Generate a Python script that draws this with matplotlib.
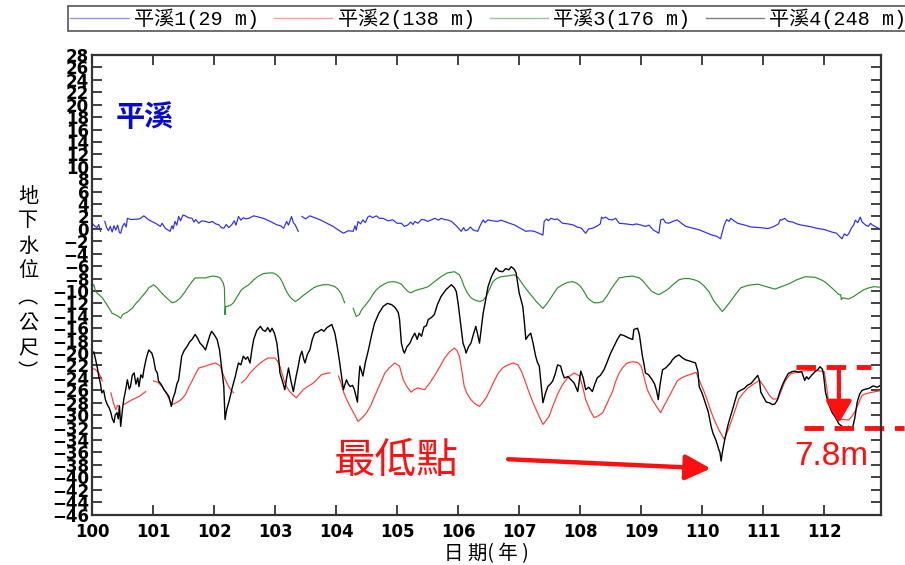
import numpy as np
import matplotlib
matplotlib.use("Agg")
import matplotlib.pyplot as plt
from matplotlib.font_manager import FontProperties

nan = np.nan

# Groundwater level records (year in ROC calendar, level in metres)
well1 = [  # 平溪1 (29 m)
    (100.00, 0.9), (100.04, 0.5), (100.08, 0.2), (100.11, 0.7), (100.14, -0.4), (100.17, nan),
    (100.21, 1.2), (100.24, 0.2), (100.27, -0.3), (100.30, 0.4), (100.33, -0.5), (100.36, 0.5),
    (100.39, -0.2), (100.42, 0.6), (100.45, -0.6), (100.47, -0.7), (100.50, 0.4), (100.53, 0.9),
    (100.56, 0.3), (100.58, 1.7), (100.64, 1.5), (100.71, 1.55), (100.78, 1.6), (100.85, 2.1),
    (100.93, 1.45), (101.04, 0.9), (101.12, 0.4), (101.15, 0.9), (101.20, 0.1), (101.28, -0.4),
    (101.31, 0.5), (101.33, 0.0), (101.36, 1.2), (101.39, 0.6), (101.42, 2.0), (101.45, 1.3),
    (101.49, 2.2), (101.53, 2.1), (101.58, 1.8), (101.64, 1.7), (101.67, 1.1), (101.70, 1.5),
    (101.75, 0.9), (101.80, 1.3), (101.86, 1.2), (101.92, 1.0), (101.97, 1.2), (102.03, 0.8),
    (102.08, 0.65), (102.12, 0.2), (102.16, 0.1), (102.20, 0.7), (102.24, 0.2), (102.29, 0.65),
    (102.33, 1.3), (102.36, 0.6), (102.40, 2.0), (102.44, 1.4), (102.48, 1.8), (102.52, 1.6),
    (102.57, 1.7), (102.65, 2.1), (102.73, 1.9), (102.81, 1.7), (102.92, 1.2), (103.03, 0.65),
    (103.09, 0.5), (103.14, 0.1), (103.19, 1.2), (103.22, 0.6), (103.27, 2.0), (103.30, 1.0),
    (103.33, 0.65), (103.38, -0.4), (103.41, nan), (103.44, 2.0), (103.50, 1.6), (103.57, 2.1),
    (103.65, 1.8), (103.74, 1.45), (103.85, 0.9), (103.95, 0.4), (104.04, -0.2), (104.12, -0.7),
    (104.20, -0.3), (104.28, -0.4), (104.31, 0.5), (104.33, -0.2), (104.36, 1.2), (104.40, 0.8),
    (104.44, 1.45), (104.48, 1.0), (104.52, 1.9), (104.55, 2.1), (104.60, 1.8), (104.66, 2.1),
    (104.71, 1.7), (104.77, 1.7), (104.85, 1.3), (104.93, 1.45), (105.00, 0.9), (105.07, 0.9),
    (105.12, 0.4), (105.18, 0.65), (105.22, 1.1), (105.26, 0.7), (105.29, 1.2), (105.34, 0.9),
    (105.40, 1.5), (105.45, 1.45), (105.50, 1.2), (105.56, 1.45), (105.62, 1.7), (105.68, 1.4),
    (105.72, 1.7), (105.78, 1.5), (105.84, 1.4), (105.89, 1.2), (105.97, 0.5), (106.05, -0.4),
    (106.09, 0.2), (106.12, -0.3), (106.16, -0.15), (106.20, 0.3), (106.25, -0.2), (106.32, -0.4),
    (106.36, 0.5), (106.41, 1.45), (106.44, 1.0), (106.49, 1.45), (106.56, 1.3), (106.65, 1.2),
    (106.70, 1.4), (106.76, 1.2), (106.84, 0.9), (106.92, 0.65), (107.02, 0.1), (107.11, -0.4),
    (107.18, -0.3), (107.25, -0.4), (107.32, -0.7), (107.39, -1.0), (107.41, 1.2), (107.45, 1.6),
    (107.48, 1.3), (107.52, 1.7), (107.58, 1.5), (107.63, 1.6), (107.71, 0.9), (107.80, 0.8),
    (107.88, 0.65), (107.95, 0.3), (108.02, 0.1), (108.09, -0.7), (108.14, 0.0), (108.20, 0.1),
    (108.27, 0.4), (108.33, 0.8), (108.35, 1.9), (108.37, 1.7), (108.42, 1.9), (108.47, 1.5),
    (108.53, 1.45), (108.58, 1.7), (108.64, 0.9), (108.75, 0.8), (108.86, 0.65), (108.92, 0.8),
    (109.00, 0.6), (109.07, 0.4), (109.13, 0.6), (109.20, -0.2), (109.29, -0.7), (109.32, 1.45),
    (109.36, 1.6), (109.40, 1.0), (109.45, 0.9), (109.52, 1.2), (109.59, 1.45), (109.66, 0.9),
    (109.73, 0.4), (109.85, 0.1), (109.95, -0.15), (110.06, -0.6), (110.16, -1.0), (110.24, -1.2),
    (110.30, -1.6), (110.33, -0.5), (110.36, 0.6), (110.40, 1.5), (110.44, 1.2), (110.47, 1.7),
    (110.52, 1.3), (110.58, 0.9), (110.70, 0.6), (110.80, 0.3), (110.95, 0.2), (111.08, 0.05),
    (111.18, 0.4), (111.25, 0.8), (111.28, 1.5), (111.30, 1.4), (111.35, 1.7), (111.41, 1.2),
    (111.48, 1.1), (111.55, 0.8), (111.63, 0.6), (111.75, 0.4), (111.90, 0.05), (112.00, -0.1),
    (112.12, -0.5), (112.20, -0.7), (112.25, -1.2), (112.29, -1.6), (112.33, -0.8), (112.37, -1.1),
    (112.40, -0.8), (112.45, 0.2), (112.48, 0.6), (112.51, 1.4), (112.55, 1.0), (112.59, 1.9),
    (112.62, 1.1), (112.68, 0.6), (112.72, 0.4), (112.76, 0.9), (112.79, 0.6), (112.85, 0.3),
    (112.90, 0.05),
]

well2 = [  # 平溪2 (138 m)
    (100.00, -22.4), (100.06, -22.7), (100.11, -23.2), (100.14, -23.8), (100.17, -24.5), (100.24, nan),
    (100.31, -26.4), (100.35, -28.0), (100.39, -29.1), (100.42, -28.4), (100.44, -28.6), (100.48, nan),
    (100.52, -28.3), (100.59, -27.9), (100.66, -27.5), (100.77, -27.0), (100.88, -26.2), (100.95, nan),
    (101.01, -24.5), (101.05, -24.6), (101.09, -24.8), (101.15, -25.4), (101.20, -26.2), (101.26, -27.3),
    (101.31, -28.3), (101.36, -28.1), (101.42, -27.8), (101.48, -27.3), (101.53, -26.7), (101.58, -25.6),
    (101.64, -24.5), (101.70, -23.3), (101.75, -22.4), (101.86, -22.1), (101.95, -21.8), (102.02, -21.6),
    (102.06, -21.8), (102.10, -22.1), (102.16, -23.7), (102.20, -24.6), (102.24, -25.4), (102.28, -26.0),
    (102.32, -26.4), (102.38, nan), (102.45, -24.8), (102.52, -24.2), (102.59, -23.2), (102.68, -22.3),
    (102.76, -21.6), (102.83, -21.1), (102.89, -20.8), (103.00, -20.8), (103.04, -21.3), (103.08, -22.1),
    (103.12, -23.5), (103.16, -24.8), (103.20, -25.6), (103.24, -26.2), (103.30, -26.8), (103.35, -27.2),
    (103.40, -26.6), (103.46, -25.9), (103.55, -25.3), (103.63, -24.8), (103.70, -24.1), (103.76, -23.5),
    (103.83, -23.3), (103.90, -23.2), (103.97, nan), (104.04, -23.7), (104.08, -24.8), (104.12, -26.2),
    (104.17, -27.4), (104.23, -28.6), (104.30, -29.9), (104.36, -31.0), (104.43, -30.4), (104.50, -29.6),
    (104.57, -28.4), (104.63, -27.0), (104.72, -25.0), (104.80, -23.2), (104.88, -22.3), (104.96, -21.6),
    (105.04, -22.1), (105.10, -24.3), (105.16, -25.4), (105.23, -26.3), (105.28, -25.9), (105.34, -25.6),
    (105.40, -25.8), (105.45, -25.9), (105.53, -24.9), (105.61, -23.7), (105.70, -22.2), (105.78, -20.8),
    (105.86, -19.8), (105.94, -19.2), (105.98, -19.6), (106.02, -20.5), (106.06, -22.8), (106.10, -25.4),
    (106.15, -26.6), (106.21, -27.5), (106.28, -28.2), (106.35, -28.6), (106.40, -28.0), (106.46, -27.2),
    (106.53, -25.8), (106.60, -24.3), (106.66, -23.2), (106.73, -22.4), (106.82, -21.9), (106.90, -21.6),
    (106.98, -21.9), (107.04, -23.0), (107.09, -24.3), (107.15, -26.0), (107.22, -27.8), (107.30, -29.6),
    (107.39, -31.5), (107.44, -30.9), (107.49, -30.2), (107.55, -28.6), (107.63, -26.6), (107.71, -25.1),
    (107.80, -23.9), (107.90, -23.2), (107.99, -23.7), (108.04, -25.4), (108.09, -27.5), (108.16, -29.2),
    (108.23, -30.4), (108.30, -30.1), (108.37, -29.6), (108.45, -27.9), (108.53, -26.2), (108.58, -24.6),
    (108.64, -23.2), (108.70, -22.3), (108.77, -21.6), (108.85, -21.4), (108.94, -21.5), (109.00, -22.1),
    (109.05, -24.0), (109.10, -25.9), (109.18, -27.5), (109.25, -28.6), (109.32, -29.6), (109.37, -28.6),
    (109.43, -27.5), (109.51, -26.0), (109.59, -24.5), (109.66, -24.0), (109.73, -23.7), (109.82, -23.4),
    (109.90, -23.1), (109.97, -24.8), (110.03, -26.2), (110.08, -27.5), (110.13, -29.0), (110.19, -30.6),
    (110.27, -32.3), (110.36, -33.9), (110.42, -32.5), (110.47, -31.2), (110.54, -29.2), (110.60, -27.4),
    (110.67, -26.5), (110.74, -25.7), (110.84, -25.0), (110.94, -24.4), (111.00, -25.2), (111.05, -26.0),
    (111.10, -26.8), (111.16, -27.4), (111.24, -27.4), (111.30, -26.0), (111.35, -24.7), (111.41, -23.8),
    (111.46, -23.3), (111.55, -23.1), (111.63, -22.9), (111.75, -22.8), (111.85, -22.8), (111.95, -22.9),
    (112.00, -23.0), (112.04, -25.5), (112.07, -27.9), (112.15, -29.4), (112.24, -30.6), (112.32, -30.7),
    (112.40, -30.8), (112.46, -30.1), (112.51, -29.3), (112.57, -27.9), (112.62, -26.8), (112.70, -26.5),
    (112.79, -26.3), (112.90, -26.1),
]

well3 = [  # 平溪3 (176 m)
    (100.00, -9.3), (100.03, -9.0), (100.06, -10.1), (100.17, -11.1), (100.25, -12.3), (100.33, -13.6),
    (100.40, -13.9), (100.47, -14.4), (100.50, -13.8), (100.58, -13.4), (100.66, -12.8), (100.72, -12.0),
    (100.78, -11.4), (100.82, -10.9), (100.88, -10.2), (100.93, -9.5), (101.01, -9.0), (101.06, -9.4),
    (101.12, -10.1), (101.20, -10.9), (101.31, -11.9), (101.38, -11.7), (101.45, -11.1), (101.52, -10.2),
    (101.58, -9.3), (101.64, -8.5), (101.69, -7.9), (101.78, -7.9), (101.86, -7.9), (101.93, -7.7),
    (101.99, -7.6), (102.05, -7.7), (102.10, -7.9), (102.15, -8.7), (102.17, -9.5), (102.18, -13.8),
    (102.19, -12.5), (102.21, -12.5), (102.27, -12.3), (102.32, -11.9), (102.38, -10.9), (102.45, -9.8),
    (102.52, -9.3), (102.57, -9.0), (102.65, -8.2), (102.73, -7.6), (102.81, -7.2), (102.90, -7.1),
    (102.97, -7.1), (103.03, -7.4), (103.08, -7.9), (103.12, -8.6), (103.16, -9.5), (103.20, -10.3),
    (103.24, -10.9), (103.28, -11.3), (103.33, -11.7), (103.38, -11.4), (103.44, -10.9), (103.52, -10.3),
    (103.63, -9.5), (103.70, -9.2), (103.79, -9.0), (103.88, -9.0), (103.98, -9.3), (104.04, -9.8),
    (104.09, -10.6), (104.14, -11.9), (104.21, nan), (104.28, -12.8), (104.33, -14.1), (104.38, -13.8),
    (104.42, -13.0), (104.48, -12.3), (104.55, -11.4), (104.60, -10.6), (104.66, -9.8), (104.72, -9.3),
    (104.77, -9.0), (104.85, -8.6), (104.93, -8.5), (105.00, -8.6), (105.07, -8.9), (105.12, -9.5),
    (105.18, -10.1), (105.23, -10.3), (105.28, -10.0), (105.34, -9.8), (105.42, -9.6), (105.51, -9.3),
    (105.60, -8.6), (105.72, -7.7), (105.82, -7.1), (105.94, -6.9), (106.02, -7.4), (106.06, -8.2),
    (106.10, -9.3), (106.15, -10.3), (106.21, -11.1), (106.28, -11.5), (106.35, -11.7), (106.41, -11.5),
    (106.46, -10.9), (106.51, -9.8), (106.57, -8.5), (106.63, -8.0), (106.70, -7.7), (106.80, -7.6),
    (106.92, -7.4), (106.98, -7.8), (107.03, -8.5), (107.10, -9.5), (107.19, -10.6), (107.28, -11.7),
    (107.35, -12.4), (107.39, -12.8), (107.45, -12.1), (107.52, -11.1), (107.58, -10.2), (107.63, -9.5),
    (107.71, -9.0), (107.80, -8.6), (107.88, -8.5), (107.95, -8.8), (108.01, -9.3), (108.07, -10.2),
    (108.12, -11.1), (108.18, -11.6), (108.23, -11.9), (108.30, -11.9), (108.37, -11.7), (108.44, -10.8),
    (108.50, -9.8), (108.57, -8.8), (108.64, -7.9), (108.75, -7.7), (108.86, -7.6), (108.97, -7.9),
    (109.03, -8.4), (109.08, -9.0), (109.13, -9.6), (109.18, -10.1), (109.24, -10.4), (109.29, -10.6),
    (109.36, -10.2), (109.43, -9.8), (109.52, -9.0), (109.62, -8.2), (109.70, -8.0), (109.78, -8.0),
    (109.87, -8.2), (109.95, -8.5), (110.03, -9.2), (110.11, -10.1), (110.19, -11.6), (110.27, -12.6),
    (110.33, -13.3), (110.40, -12.5), (110.47, -11.6), (110.55, -10.5), (110.63, -9.5), (110.75, -9.1),
    (110.91, -8.9), (111.05, -9.3), (111.19, -9.7), (111.30, -9.3), (111.41, -8.9), (111.55, -8.2),
    (111.69, -7.7), (111.85, -7.8), (111.95, -8.2), (112.02, -8.6), (112.10, -9.3), (112.18, -10.0),
    (112.24, -10.6), (112.27, -10.6), (112.28, -11.4), (112.30, -11.1), (112.40, -11.3), (112.48, -10.9),
    (112.57, -10.3), (112.65, -9.8), (112.73, -9.5), (112.82, -9.3), (112.90, -9.4),
]

well4 = [  # 平溪4 (248 m)
    (100.00, -20.3), (100.03, -19.8), (100.06, -21.1), (100.09, -22.5), (100.11, -23.7), (100.14, -25.0),
    (100.16, -26.4), (100.19, -26.0), (100.22, -27.5), (100.25, -28.3), (100.28, -28.8), (100.31, -29.6),
    (100.33, -30.5), (100.36, -31.2), (100.38, -30.0), (100.41, -29.6), (100.43, -30.6), (100.45, -28.5),
    (100.47, -31.8), (100.50, -29.0), (100.52, -27.5), (100.55, -26.0), (100.58, -24.3), (100.61, -25.8),
    (100.63, -25.4), (100.66, -23.6), (100.69, -23.2), (100.72, -25.0), (100.75, -24.0), (100.77, -25.4),
    (100.80, -23.5), (100.83, -24.0), (100.85, -22.7), (100.89, -20.8), (100.93, -19.5), (100.96, -19.8),
    (100.98, -20.0), (101.01, -21.0), (101.04, -22.7), (101.07, -23.2), (101.09, -24.5), (101.13, -25.0),
    (101.18, -25.9), (101.22, -26.4), (101.26, -27.0), (101.30, -28.6), (101.33, -27.2), (101.36, -26.4),
    (101.39, -25.0), (101.42, -24.3), (101.45, -22.0), (101.47, -20.5), (101.51, -19.6), (101.56, -18.9),
    (101.60, -18.2), (101.64, -17.8), (101.69, -17.0), (101.73, -17.6), (101.77, -18.4), (101.81, -18.8),
    (101.86, -19.5), (101.90, -18.2), (101.93, -17.2), (101.96, -16.5), (102.00, -17.0), (102.05, -17.8),
    (102.09, -19.5), (102.12, -22.1), (102.14, -23.7), (102.16, -25.4), (102.18, -30.7), (102.21, -29.0),
    (102.24, -28.0), (102.27, -26.8), (102.29, -25.9), (102.32, -24.8), (102.35, -23.7), (102.37, -22.8),
    (102.40, -21.6), (102.44, -21.9), (102.48, -20.5), (102.52, -21.0), (102.55, -20.6), (102.59, -21.6),
    (102.62, -19.5), (102.65, -17.8), (102.70, -16.4), (102.76, -15.7), (102.80, -16.3), (102.84, -16.5),
    (102.88, -15.9), (102.92, -16.6), (102.95, -16.0), (102.99, -16.8), (103.03, -18.4), (103.06, -21.0),
    (103.08, -23.2), (103.12, -24.5), (103.16, -25.9), (103.19, -24.0), (103.22, -22.4), (103.26, -24.5),
    (103.30, -26.2), (103.34, -24.0), (103.38, -22.1), (103.41, -20.5), (103.44, -19.7), (103.47, -21.0),
    (103.49, -21.6), (103.53, -20.2), (103.57, -19.5), (103.61, -17.8), (103.65, -16.8), (103.70, -16.6),
    (103.76, -16.2), (103.80, -16.5), (103.85, -15.9), (103.90, -15.6), (103.93, -15.4), (103.98, -16.8),
    (104.02, -19.0), (104.06, -21.6), (104.09, -23.8), (104.12, -25.9), (104.17, -24.3), (104.20, -25.0),
    (104.23, -25.4), (104.27, -25.2), (104.30, -25.9), (104.35, -27.9), (104.37, -24.5), (104.39, -22.1),
    (104.42, -23.0), (104.44, -23.7), (104.48, -21.5), (104.53, -19.5), (104.58, -17.2), (104.63, -15.2),
    (104.70, -13.6), (104.77, -12.5), (104.84, -12.0), (104.91, -12.2), (104.96, -12.6), (104.99, -13.0),
    (105.02, -13.5), (105.04, -14.6), (105.06, -17.0), (105.07, -18.4), (105.10, -19.6), (105.12, -20.0),
    (105.16, -19.0), (105.21, -18.4), (105.25, -17.5), (105.29, -16.8), (105.33, -17.8), (105.36, -16.8),
    (105.40, -17.3), (105.44, -15.8), (105.48, -15.6), (105.51, -14.6), (105.56, -14.3), (105.61, -13.8),
    (105.66, -12.2), (105.72, -10.9), (105.80, -9.8), (105.89, -9.0), (105.94, -9.5), (105.97, -10.1),
    (106.00, -12.0), (106.02, -13.6), (106.05, -16.0), (106.08, -18.4), (106.11, -19.2), (106.13, -20.0),
    (106.17, -19.0), (106.21, -18.4), (106.25, -17.0), (106.29, -15.7), (106.32, -17.0), (106.35, -18.4),
    (106.38, -16.0), (106.41, -13.6), (106.45, -11.5), (106.49, -9.3), (106.55, -7.6), (106.62, -6.3),
    (106.67, -6.8), (106.73, -6.9), (106.78, -6.4), (106.83, -6.6), (106.87, -6.1), (106.92, -6.5),
    (106.95, -7.1), (107.00, -10.3), (107.06, -12.5), (107.09, -15.5), (107.11, -17.8), (107.15, -17.2),
    (107.19, -16.8), (107.23, -18.5), (107.27, -20.5), (107.30, -21.5), (107.33, -22.1), (107.36, -25.0),
    (107.39, -28.0), (107.43, -26.5), (107.47, -25.4), (107.51, -25.0), (107.55, -24.5), (107.59, -23.4),
    (107.63, -21.9), (107.68, -22.1), (107.71, -23.2), (107.74, -24.0), (107.80, -23.8), (107.85, -24.3),
    (107.90, -24.8), (107.96, -26.2), (108.01, -22.9), (108.05, -24.0), (108.09, -25.9), (108.14, -25.5),
    (108.20, -26.2), (108.24, -25.0), (108.28, -24.0), (108.33, -23.6), (108.39, -22.7), (108.44, -21.5),
    (108.50, -20.0), (108.56, -18.8), (108.61, -17.8), (108.66, -17.0), (108.72, -17.2), (108.80, -17.6),
    (108.86, -17.8), (108.88, -16.2), (108.94, -16.0), (108.97, -17.0), (108.99, -18.4), (109.02, -20.5),
    (109.05, -22.0), (109.07, -23.2), (109.12, -23.5), (109.18, -24.3), (109.22, -25.0), (109.25, -26.0),
    (109.28, -27.5), (109.31, -25.0), (109.35, -22.7), (109.40, -22.4), (109.43, -22.1), (109.48, -21.6),
    (109.51, -21.1), (109.56, -20.6), (109.62, -20.3), (109.68, -20.8), (109.73, -21.1), (109.80, -21.3),
    (109.89, -21.6), (109.93, -23.0), (109.95, -25.4), (110.00, -26.5), (110.05, -28.0), (110.10, -29.5),
    (110.15, -32.0), (110.18, -33.0), (110.22, -33.9), (110.25, -34.8), (110.27, -35.5), (110.29, -36.0),
    (110.31, -37.4), (110.33, -36.0), (110.36, -34.4), (110.39, -33.0), (110.42, -31.7), (110.46, -30.3),
    (110.50, -29.0), (110.54, -27.6), (110.58, -26.3), (110.63, -26.0), (110.69, -25.7), (110.74, -25.2),
    (110.80, -24.9), (110.86, -24.2), (110.91, -23.6), (110.94, -24.5), (110.96, -26.3), (111.00, -27.0),
    (111.05, -27.9), (111.10, -28.0), (111.15, -28.3), (111.19, -28.2), (111.23, -27.6), (111.27, -26.3),
    (111.32, -25.0), (111.37, -24.0), (111.41, -23.3), (111.47, -23.0), (111.52, -22.9), (111.58, -23.1),
    (111.63, -23.0), (111.68, -24.4), (111.71, -23.8), (111.74, -24.2), (111.80, -23.5), (111.85, -23.0),
    (111.90, -22.6), (111.93, -22.2), (111.97, -22.6), (111.99, -23.6), (112.02, -26.3), (112.07, -28.2),
    (112.13, -29.6), (112.18, -30.3), (112.24, -31.4), (112.29, -31.8), (112.35, -32.2), (112.40, -31.8),
    (112.46, -32.2), (112.50, -30.5), (112.54, -27.9), (112.58, -26.6), (112.62, -26.0), (112.68, -25.8),
    (112.73, -25.7), (112.80, -25.3), (112.87, -25.5), (112.92, -25.2),
]

series_labels = ["平溪1(29 m)", "平溪2(138 m)", "平溪3(176 m)", "平溪4(248 m)"]
series_colors = ["#2a2aff", "#ff3a3a", "#2f8f2f", "#000000"]
series_widths = [0.85, 0.85, 0.85, 1.0]
year_ticks = list(range(100, 113))
level_ticks = list(range(-46, 29, 2))

# Annotation values
drop_top, drop_bottom = -22.2, -32.0
drop_label = "7.8m"

cjk = "Noto Sans CJK TC"

fig = plt.figure(figsize=(9.05, 5.65), dpi=100)
ax = fig.add_axes([92 / 905, 1 - 514.5 / 565, (881 - 92) / 905, (514.5 - 55) / 565])

handles = []
for data, lab, col, lw in zip([well1, well2, well3, well4], series_labels,
                              series_colors, series_widths):
    arr = np.array(data, dtype=float)
    h, = ax.plot(arr[:, 0], arr[:, 1], color=col, lw=lw, label=lab)
    handles.append(h)

ax.set_xlim(100, 112.93)
ax.set_ylim(-46, 28)
ax.set_xticks(year_ticks)
ax.set_yticks(level_ticks)
ax.tick_params(axis="both", direction="in", length=7, width=1.3, color="#333333",
               top=True, right=True, labelsize=12, pad=2)
ax.tick_params(axis="x", pad=6)
for lbl in ax.get_xticklabels() + ax.get_yticklabels():
    lbl.set_fontweight("bold")
    lbl.set_family("DejaVu Sans")
for sp in ax.spines.values():
    sp.set_linewidth(1.6)
    sp.set_color("#333333")

# Axis titles
ax.set_xlabel("日 期( 年 )", family=[cjk], fontsize=14, labelpad=2)
ylab_chars = ["地", "下", "水", "位", "︵", "公", "尺", "︶"]
ylab_rows = [196, 221, 246, 271, 298, 324, 349, 373]
for ch, row in zip(ylab_chars, ylab_rows):
    fig.text(28 / 905, 1 - row / 565, ch, family=[cjk], fontsize=14.5,
             ha="center", va="center")

# Station name
ax.text(100.87, 18.0, "平溪", family=[cjk], fontsize=21, fontweight="bold",
        color="#0a0acd", ha="center", va="center")

# Lowest-point note
ax.text(104.97, -37.5, "最低點", family=[cjk], fontsize=30, color="#ff1010",
        ha="center", va="center")
ax.annotate("", xy=(110.14, -38.6), xytext=(106.82, -37.1),
            arrowprops=dict(arrowstyle="-|>,head_length=0.7,head_width=0.35",
                            color="#ff1010", lw=3.2, mutation_scale=22,
                            shrinkA=0, shrinkB=0))

# Drawdown marker
ax.plot([111.54, 112.76], [drop_top, drop_top], color="#ff1010", lw=3.5,
        dashes=(4, 2.2), clip_on=False, solid_capstyle="butt")
ax.plot([111.67, 113.3], [drop_bottom, drop_bottom], color="#ff1010", lw=3.5,
        dashes=(4, 2.2), clip_on=False, solid_capstyle="butt")
ax.annotate("", xy=(112.24, drop_bottom + 0.7), xytext=(112.24, drop_top - 0.6),
            arrowprops=dict(arrowstyle="-|>,head_length=0.6,head_width=0.35",
                            color="#ff1010", lw=3, mutation_scale=22,
                            shrinkA=0, shrinkB=0))
ax.text(112.11, -36.7, drop_label, family="Liberation Sans", fontsize=24,
        color="#ff1010", ha="center", va="center", clip_on=False)

# Legend strip across the top
leg = ax.legend(handles=handles, labels=series_labels, ncol=4, loc="upper left",
                bbox_to_anchor=(68 / 905, 1 - 6 / 565), bbox_transform=fig.transFigure,
                prop=FontProperties(family=["Liberation Mono", cjk], size=14.5),
                handlelength=2.9, handletextpad=0.25, columnspacing=0.75,
                borderpad=0.12, borderaxespad=0, frameon=True, fancybox=False,
                framealpha=1, edgecolor="#555555")
leg.get_frame().set_linewidth(1.2)
for ln in leg.get_lines():
    ln.set_linewidth(1.0)
    ln.set_alpha(0.5)

fig.savefig("out.png", dpi=100)
